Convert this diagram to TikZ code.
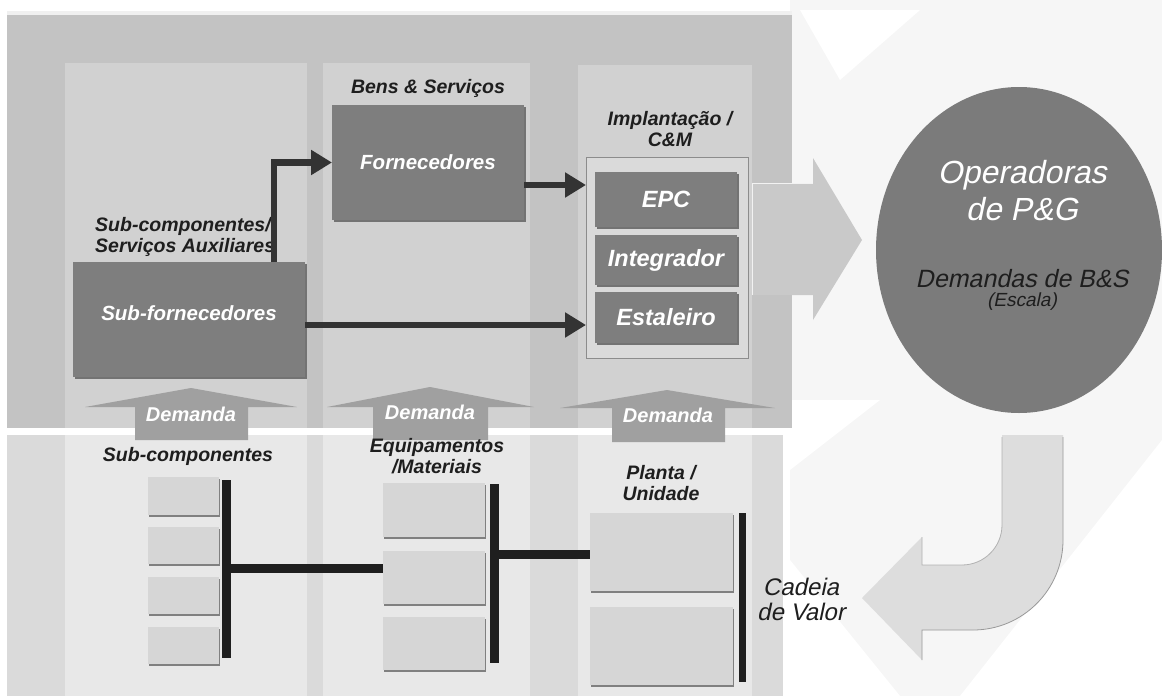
\documentclass[tikz,border=0pt]{standalone}
\usepackage{fontspec}
\setmainfont{Liberation Sans}
\newfontfamily\slantsans{Liberation Sans}[FakeSlant=0.21]
\usetikzlibrary{shadows,arrows.meta,shapes.geometric}
\definecolor{panel}{HTML}{C3C3C3}
\definecolor{coltop}{HTML}{D1D1D1}
\definecolor{grp}{HTML}{DADADA}
\definecolor{darkbx}{HTML}{7E7E7E}
\definecolor{stripe}{HTML}{DADADA}
\definecolor{colbot}{HTML}{E8E8E8}
\definecolor{lightbx}{HTML}{D6D6D6}
\definecolor{demarrow}{HTML}{A0A0A0}
\definecolor{bigarrow}{HTML}{C9C9C9}
\definecolor{curvarrow}{HTML}{DDDDDD}
\definecolor{circ}{HTML}{7B7B7B}
\definecolor{bgfaint}{HTML}{F6F6F6}
\definecolor{txt}{HTML}{1E1E1E}
\begin{document}
\begin{tikzpicture}[x=1pt,y=-1pt,
  lbl/.style={font=\fontsize{19.5}{21.5}\selectfont\bfseries\itshape, text=txt, align=center, inner sep=0pt},
  boxshadow/.style={drop shadow={shadow xshift=1.5pt, shadow yshift=-2pt, fill=black!55, opacity=1}},
  darkbox/.style={fill=darkbx, text=white, inner sep=0pt, outer sep=0pt, boxshadow,
     font=\fontsize{20.5}{23}\selectfont\bfseries\itshape},
  implbox/.style={darkbox, minimum width=142, font=\fontsize{23.5}{26}\selectfont\bfseries\itshape},
  lightbox/.style={fill=lightbx, inner sep=0pt, outer sep=0pt,
     drop shadow={shadow xshift=1pt, shadow yshift=-1.5pt, fill=black!50, opacity=1}},
  conn/.style={draw=black!80, line width=6.8pt, -{Triangle[length=21pt,width=24pt]}},
  bar/.style={draw=black!88, line width=9pt},
  demtxt/.style={font=\fontsize{20}{22}\selectfont\bfseries\itshape, text=white, inner sep=0pt},
  regit/.style 2 args={font=\fontsize{#1}{#2}\selectfont\slantsans, inner sep=0pt, align=center}
]
\useasboundingbox (0,0) rectangle (1162,696);
% background
\fill[white] (0,0) rectangle (1162,696);
\fill[bgfaint] (790,0) -- (1162,0) -- (1162,696) -- (790,696) -- cycle;
\fill[white] (800,10) -- (920,10) -- (840,80) -- cycle;
\fill[white] (1162,440) -- (1162,696) -- (960,696) -- cycle;
\fill[white] (790,560) -- (900,696) -- (790,696) -- cycle;
\fill[white] (790,400) -- (880,400) -- (790,470) -- cycle;

% top panel
\fill[black!6] (7,11) rectangle (792,15);
\fill[panel] (7,15) rectangle (792,428);
\fill[coltop] (65,63) rectangle (307,428);
\fill[coltop] (323,63) rectangle (530,428);
\fill[coltop] (578,65) rectangle (752,428);

% bottom region
\fill[stripe] (7,435) rectangle (65,696);
\fill[colbot] (65,435) rectangle (307,696);
\fill[stripe] (307,435) rectangle (323,696);
\fill[colbot] (323,435) rectangle (530,696);
\fill[stripe] (530,435) rectangle (578,696);
\fill[colbot] (578,435) rectangle (752,696);
\fill[stripe] (752,435) rectangle (783,696);

% Demanda arrows
\fill[demarrow] (135,440) -- (135,407) -- (85,407) -- (191,388) -- (297,407) -- (248,407) -- (248,440) -- cycle;
\fill[demarrow] (373,440) -- (373,407) -- (327,407) -- (430,387) -- (534,407) -- (488,407) -- (488,440) -- cycle;
\fill[demarrow] (612,442) -- (612,408) -- (560,408) -- (667,390) -- (775,408) -- (725,408) -- (725,442) -- cycle;
\node[demtxt] (dem1) at (191,414) {Demanda};
\node[demtxt] (dem2) at (430,412) {Demanda};
\node[demtxt] (dem3) at (668,415) {Demanda};

% top labels
\node[lbl] (bens) at (428,88) {Bens \& Serviços};
\node[lbl, align=left, anchor=west] (subcomp) at (95,237) {Sub-componentes/\\[-1pt]Serviços Auxiliares};
\node[lbl] (implt) at (670,129) {Implantação /\\[-1pt]C\&M};

% top boxes
\node[darkbox, minimum width=192, minimum height=115] (forn) at (428,162.5) {Fornecedores};
\node[darkbox, minimum width=232, minimum height=115] (subf) at (189,319.5) {\raisebox{13pt}{Sub-fornecedores}};
\node[fill=grp, draw=black!45, line width=0.6pt, minimum width=162, minimum height=201, inner sep=0pt, outer sep=0pt] (impl) at (667,257.5) {};
\node[implbox, minimum height=55] (epc) at (666,199.5) {EPC};
\node[implbox, minimum height=50] (integ) at (666,260) {Integrador};
\node[implbox, minimum height=51] (estal) at (666,317.5) {Estaleiro};

% connectors top
\draw[conn] ([xshift=85pt]subf.north) |- (forn.west);
\draw[conn] ([yshift=-22.5pt]forn.east) -- ([yshift=-22.5pt]forn.east -| impl.west);
\draw[conn] ([yshift=-5.5pt]subf.east) -- ([yshift=-5.5pt]subf.east -| impl.west);

% big right arrow
\fill[bigarrow] (752,183) -- (813,183) -- (813,158) -- (862,240) -- (813,320) -- (813,295) -- (752,295) -- cycle;
\draw[white!90!gray, line width=1pt] (752,295) -- (752,183) -- (813,183);

% circle
\node[ellipse, fill=circ, minimum width=286, minimum height=326, inner sep=0pt] (op) at (1019,250) {};
\node[regit={32}{37}, text=white] (optxt) at (1022,191) {Operadoras\\de P\&G};
\node[regit={25}{28}, text=txt] (demb) at (1022,279) {Demandas de B\&S};
\node[regit={19}{22}, text=txt] (esc) at (1022,302) {(Escala)};

% curved arrow
\fill[curvarrow] (1002,435) -- (1063,435) -- (1063,540) arc[start angle=0, end angle=90, radius=90]
  -- (922,630) -- (922,660) -- (862,598) -- (922,537) -- (922,565) -- (962,565)
  arc[start angle=90, end angle=0, radius=40] -- cycle;
\draw[black!40, line width=0.8pt] (1063,437) -- (1063,540) arc[start angle=0, end angle=90, radius=90] -- (922,630) -- (922,660);
\draw[black!30, line width=0.8pt] (922,537) -- (922,565) -- (962,565) arc[start angle=90, end angle=0, radius=40] -- (1002,437);

% bottom labels
\node[lbl] (subc) at (188,456) {Sub-componentes};
\node[lbl] (equip) at (437,456) {Equipamentos\\[-1pt]/Materiais};
\node[lbl] (planta) at (661,483) {Planta /\\[-1pt]Unidade};
\node[regit={24}{27}, text=txt] (cadeia) at (801,599) {Cadeia\\[-2pt]de Valor};

% bottom boxes col 1
\node[lightbox, minimum width=71, minimum height=38] (s1) at (183.5,496) {};
\node[lightbox, minimum width=71, minimum height=37] (s2) at (183.5,545.5) {};
\node[lightbox, minimum width=71, minimum height=37] (s3) at (183.5,595.5) {};
\node[lightbox, minimum width=71, minimum height=37] (s4) at (183.5,645.5) {};
% col 2
\node[lightbox, minimum width=102, minimum height=54] (e1) at (434,510) {};
\node[lightbox, minimum width=102, minimum height=53] (e2) at (434,577.5) {};
\node[lightbox, minimum width=102, minimum height=53] (e3) at (434,643.5) {};
% col 3
\node[lightbox, minimum width=143, minimum height=78] (p1) at (661.5,552) {};
\node[lightbox, minimum width=143, minimum height=78] (p2) at (661.5,646) {};

% bars
\coordinate (b1t) at (226.5,480);
\coordinate (b1b) at (226.5,658);
\coordinate (b1m) at (222,568.5);
\coordinate (b2t) at (494.5,484);
\coordinate (b2b) at (494.5,663);
\coordinate (b2m) at (490,554.5);
\coordinate (b3t) at (742.5,513);
\coordinate (b3b) at (742.5,682);
\draw[bar] (b1t) -- (b1b);
\draw[bar] (b1m) -- (b1m -| e2.west);
\draw[bar] (b2t) -- (b2b);
\draw[bar] (b2m) -- (b2m -| p1.west);
\draw[bar, line width=7pt] (b3t) -- (b3b);
\end{tikzpicture}
\end{document}
